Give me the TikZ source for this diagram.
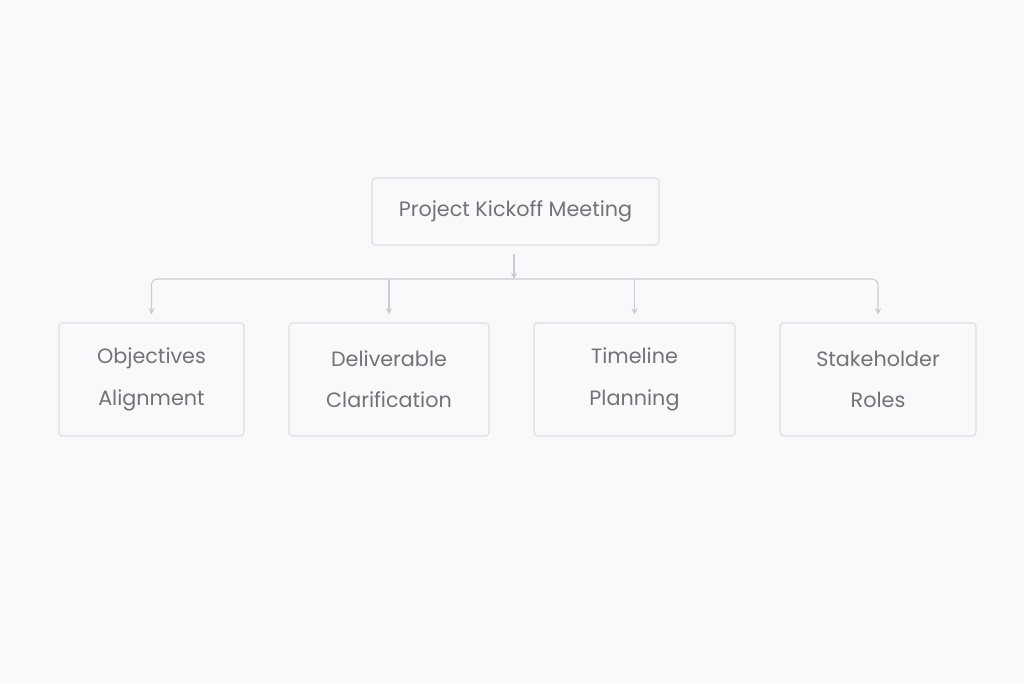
\documentclass[tikz,border=0pt]{standalone}
\usepackage{fontspec}
\setmainfont{Poppins}
\usepackage{tikz}
\usetikzlibrary{positioning,calc}
\definecolor{bgcol}{HTML}{F9F9FB}
\definecolor{boxline}{HTML}{DCDDE3}
\definecolor{arrcol}{HTML}{C9CBD3}
\definecolor{txtcol}{HTML}{727379}

\begin{document}
\begin{tikzpicture}[x=0.02cm,y=-0.02cm]
            \tikzstyle{card}=[draw=boxline, fill=bgcol, line width=0.6pt,
            rounded corners=2pt, text=txtcol, align=center,
            font=\fontsize{11.8}{23.5}\selectfont, inner sep=0pt]
            \tikzstyle{link}=[draw=arrcol, line width=0.6pt, -stealth]
            \fill[bgcol] (0,0) rectangle (1024,683);
            \useasboundingbox (0,0) rectangle (1024,683);
            \node[card, minimum width=287*0.02cm, minimum height=67*0.02cm] (kick) at (515.5,211.5) {Project Kickoff Meeting};
            \node[card, minimum width=185*0.02cm, minimum height=113*0.02cm] (obj) at (151.5,379.5) {Objectives\\Alignment};
            \node[card, minimum width=200*0.02cm, minimum height=113*0.02cm] (del) at (389,379.5) {Deliverable\\Clarification};
            \node[card, minimum width=201*0.02cm, minimum height=113*0.02cm] (tim) at (634.5,379.5) {Timeline\\Planning};
            \node[card, minimum width=196*0.02cm, minimum height=113*0.02cm] (sta) at (878,379.5) {Stakeholder\\Roles};
            \coordinate (bus) at (514,279);
            \draw[link, shorten <=8*0.02cm] (kick.south -| bus) -- (bus);
            \draw[link, rounded corners=6*0.02cm, shorten >=8*0.02cm] (bus) -| (obj.north);
            \draw[link, rounded corners=6*0.02cm, shorten >=8*0.02cm] (bus) -| (sta.north);
            \draw[link, shorten >=8*0.02cm] (del.north |- bus) -- (del.north);
            \draw[link, shorten >=8*0.02cm] (tim.north |- bus) -- (tim.north);
        \end{tikzpicture}
\end{document}
